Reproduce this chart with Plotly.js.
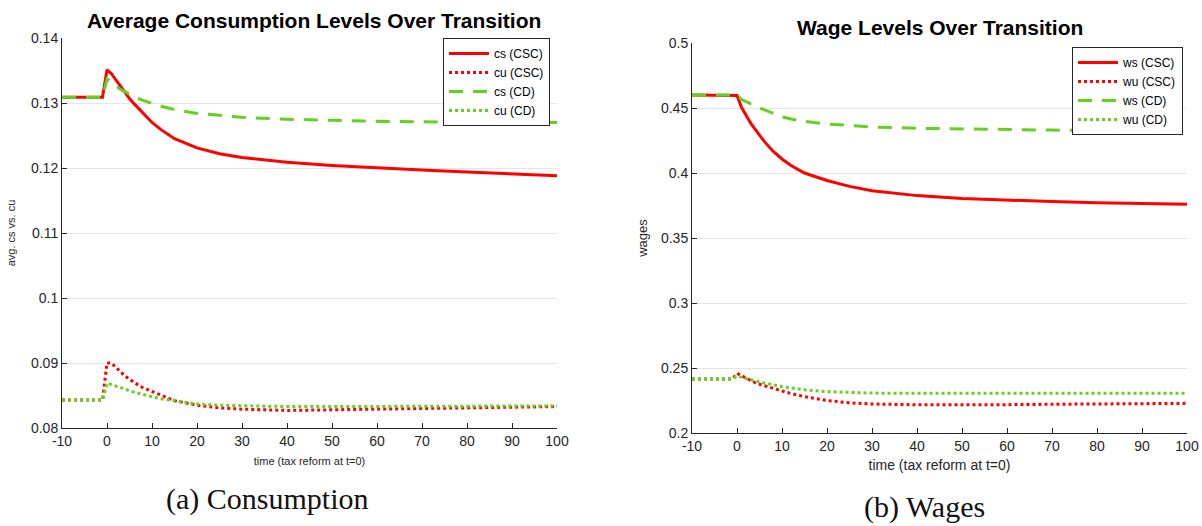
<!DOCTYPE html>
<html>
<head>
<meta charset="utf-8">
<script src="https://cdn.plot.ly/plotly-3.0.1.min.js"></script>
<style>html,body{margin:0;padding:0;background:#fff;}#chart{width:1202px;height:526px;}</style>
</head>
<body>
<div id="chart"></div>
<script>
// time points (tax reform at t=0)
const t = [-10,-1,0,1,2,3,4,5,6,8,10,12,15,20,25,30,40,50,60,70,80,90,100];

// Consumption panel
const cs_csc = [0.1309,0.1309,0.1351,0.1345,0.1335,0.1325,0.1316,0.1307,0.1299,0.1284,0.1270,0.1259,0.1245,0.1231,0.1222,0.1216,0.1209,0.1204,0.1200,0.1197,0.1194,0.1191,0.1188];
const cu_csc = [0.0843,0.0843,0.0900,0.0900,0.0893,0.0886,0.0880,0.0875,0.0870,0.0862,0.0856,0.0850,0.0842,0.0835,0.0831,0.0829,0.0827,0.0828,0.0829,0.0830,0.0831,0.0832,0.0833];
const cs_cd  = [0.1309,0.1309,0.1337,0.1331,0.1326,0.1321,0.1317,0.1313,0.1310,0.1304,0.1299,0.1295,0.1290,0.1284,0.1281,0.1278,0.1275,0.1273,0.1272,0.1271,0.1271,0.1270,0.1270];
const cu_cd  = [0.0843,0.0843,0.0869,0.0867,0.0865,0.0862,0.0860,0.0857,0.0855,0.0851,0.0848,0.0845,0.0842,0.0837,0.0835,0.0834,0.0833,0.0833,0.0833,0.0833,0.0833,0.0833,0.0834];

// Wage panel
const ws_csc = [0.4600,0.4600,0.4597,0.4505,0.4440,0.4385,0.4338,0.4292,0.4245,0.4168,0.4108,0.4058,0.4000,0.3942,0.3897,0.3864,0.3826,0.3804,0.3790,0.3780,0.3772,0.3766,0.3760];
const wu_csc = [0.2415,0.2415,0.2459,0.2440,0.2420,0.2402,0.2387,0.2375,0.2364,0.2343,0.2322,0.2303,0.2280,0.2250,0.2232,0.2223,0.2217,0.2216,0.2218,0.2221,0.2224,0.2226,0.2228];
const ws_cd  = [0.4600,0.4600,0.4600,0.4565,0.4548,0.4532,0.4517,0.4502,0.4487,0.4460,0.4432,0.4415,0.4397,0.4377,0.4363,0.4354,0.4344,0.4338,0.4334,0.4330,0.4327,0.4325,0.4323];
const wu_cd  = [0.2415,0.2415,0.2438,0.2428,0.2418,0.2409,0.2400,0.2392,0.2385,0.2370,0.2357,0.2346,0.2333,0.2318,0.2311,0.2307,0.2305,0.2305,0.2305,0.2305,0.2305,0.2305,0.2305];

// tick labels
const xTicks = [-10,0,10,20,30,40,50,60,70,80,90,100];
const xTickText = ["-10","0","10","20","30","40","50","60","70","80","90","100"];
const yTicksC = [0.08,0.09,0.10,0.11,0.12,0.13,0.14];
const yTickTextC = ["0.08","0.09","0.1","0.11","0.12","0.13","0.14"];
const yTicksW = [0.2,0.25,0.3,0.35,0.4,0.45,0.5];
const yTickTextW = ["0.2","0.25","0.3","0.35","0.4","0.45","0.5"];

const RED = '#ff0000';
const GREEN = '#63d120';
const AX = '#262626';
const FONT = 'Liberation Sans, Arial, sans-serif';
const SERIF = 'Liberation Serif, DejaVu Serif, serif';

function tr(y, name, color, dash, xa, ya, leg) {
  return {x: t, y: y, name: name, type: 'scatter', mode: 'lines',
    line: {color: color, width: 3, dash: dash}, xaxis: xa, yaxis: ya, legend: leg};
}

const data = [
  tr(cs_csc, 'cs (CSC)', RED, 'solid', 'x', 'y', 'legend'),
  tr(cu_csc, 'cu (CSC)', RED, 'dot', 'x', 'y', 'legend'),
  tr(cs_cd, 'cs (CD)', GREEN, '14px,10px', 'x', 'y', 'legend'),
  tr(cu_cd, 'cu (CD)', GREEN, 'dot', 'x', 'y', 'legend'),
  tr(ws_csc, 'ws (CSC)', RED, 'solid', 'x2', 'y2', 'legend2'),
  tr(wu_csc, 'wu (CSC)', RED, 'dot', 'x2', 'y2', 'legend2'),
  tr(ws_cd, 'ws (CD)', GREEN, '14px,10px', 'x2', 'y2', 'legend2'),
  tr(wu_cd, 'wu (CD)', GREEN, 'dot', 'x2', 'y2', 'legend2')
];

function xax(domain, anchor, titleSize, standoff) {
  return {domain: domain, anchor: anchor, range: [-10, 100], tickvals: xTicks, ticktext: xTickText,
    showline: true, linecolor: AX, linewidth: 1, ticks: 'inside', ticklen: 5, tickcolor: AX,
    showgrid: false, zeroline: false, tickfont: {family: FONT, size: 14, color: AX},
    title: {text: 'time (tax reform at t=0)', font: {family: FONT, size: titleSize, color: AX}, standoff: standoff}};
}
function yax(domain, anchor, range, vals, txt, title, titleSize, standoff) {
  return {domain: domain, anchor: anchor, range: range, tickvals: vals, ticktext: txt,
    showline: true, linecolor: AX, linewidth: 1, ticks: 'inside', ticklen: 5, tickcolor: AX,
    showgrid: true, gridcolor: '#e6e6e6', gridwidth: 1, zeroline: false,
    tickfont: {family: FONT, size: 14, color: AX},
    title: {text: title, font: {family: FONT, size: titleSize, color: AX}, standoff: standoff}};
}

const legendStyle = {xanchor: 'right', yanchor: 'top', bgcolor: '#fff',
  bordercolor: AX, borderwidth: 1, font: {family: FONT, size: 12, color: '#000'}, tracegroupgap: 0, itemwidth: 40};

const layout = {
  width: 1202, height: 526,
  margin: {l: 0, r: 0, t: 0, b: 0},
  paper_bgcolor: '#fff', plot_bgcolor: '#fff',
  font: {family: FONT, color: AX},
  showlegend: true,
  xaxis: xax([62/1202, 557/1202], 'y', 11, 9),
  yaxis: yax([1-428/526, 1-38/526], 'x', [0.08, 0.14], yTicksC, yTickTextC, 'avg. cs vs. cu', 11, 13),
  xaxis2: xax([692/1202, 1187/1202], 'y2', 14, 7),
  yaxis2: yax([1-433/526, 1-43/526], 'x2', [0.2, 0.5], yTicksW, yTickTextW, 'wages', 13, 10),
  legend: Object.assign({x: 550/1202, y: 1-38/526}, legendStyle),
  legend2: Object.assign({x: 1183/1202, y: 1-47/526}, legendStyle),
  annotations: [
    {text: '<b>Average Consumption Levels Over Transition</b>', xref: 'paper', yref: 'paper',
      x: 314/1202, y: 1-21/526, xanchor: 'center', yanchor: 'middle', showarrow: false,
      font: {family: FONT, size: 21, color: '#000'}},
    {text: '<b>Wage Levels Over Transition</b>', xref: 'paper', yref: 'paper',
      x: 940/1202, y: 1-27/526, xanchor: 'center', yanchor: 'middle', showarrow: false,
      font: {family: FONT, size: 21, color: '#000'}},
    {text: '(a) Consumption', xref: 'paper', yref: 'paper',
      x: 267/1202, y: 1-499/526, xanchor: 'center', yanchor: 'middle', showarrow: false,
      font: {family: SERIF, size: 30, color: '#111'}},
    {text: '(b) Wages', xref: 'paper', yref: 'paper',
      x: 924/1202, y: 1-507/526, xanchor: 'center', yanchor: 'middle', showarrow: false,
      font: {family: SERIF, size: 30, color: '#111'}}
  ]
};

Plotly.newPlot('chart', data, layout, {staticPlot: true, displayModeBar: false});
</script>
</body>
</html>
